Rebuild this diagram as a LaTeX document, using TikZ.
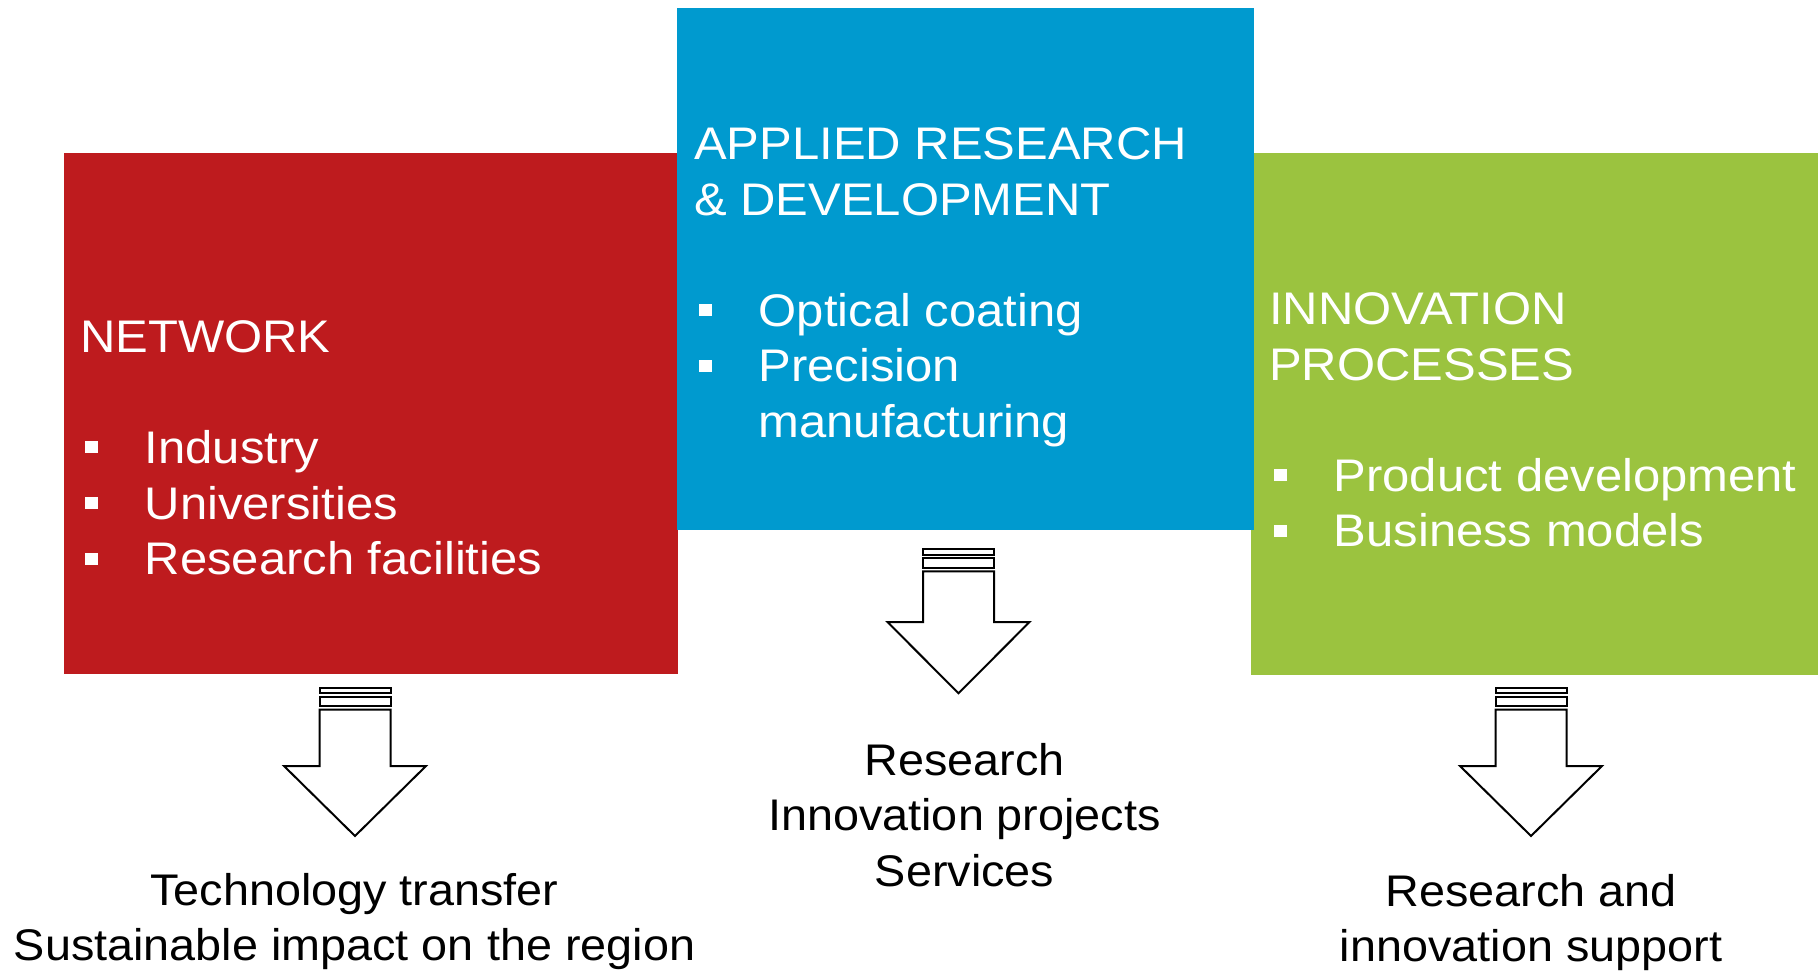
\documentclass[tikz,border=0pt]{standalone}
\usepackage{fontspec}
\setmainfont{Liberation Sans}[FakeStretch=1.056]
\newfontfamily\fieldfont{Liberation Sans}[FakeStretch=1.072]
\usetikzlibrary{positioning}

\definecolor{netred}{HTML}{BE1B1E}
\definecolor{ardblue}{HTML}{009ACF}
\definecolor{innogreen}{HTML}{9BC33F}

\newcommand{\firstline}{\rule{0pt}{40pt}}
\newcommand{\bul}{\makebox[64.5pt][l]{\hspace{4.5pt}\rule[10pt]{13pt}{12pt}}}
\newcommand{\bulgap}{\hspace*{64.5pt}}

\tikzset{
  field/.style={rectangle, inner sep=0, outer sep=0, anchor=north west},
  fieldtext/.style={text=white, align=left, inner sep=0, anchor=north west,
    font=\fieldfont\fontsize{45.7}{55.6}\selectfont},
  outcome/.style={text=black, align=center, inner sep=0, anchor=north,
    font=\fontsize{44.3}{55.6}\selectfont},
  blockarrow/.style={draw=black, fill=white, line width=2pt, line join=miter}
}

\begin{document}
\begin{tikzpicture}[x=1pt, y=-1pt]
\useasboundingbox (0,0) rectangle (1818,971);

% the three fields
\node[field, fill=netred, minimum width=614, minimum height=521] (network) at (64,153) {};
\node[field, fill=innogreen, minimum width=567, minimum height=522] (innovation) at (1251,153) {};
\node[field, fill=ardblue, minimum width=577, minimum height=522] (ard) at (677,8) {};

\node[fieldtext] (networktxt) at (80,312)
  {\firstline NETWORK\\ \\ \bul Industry\\ \bul Universities\\ \bul Research facilities};
\node[fieldtext] (ardtxt) at (694,119.3)
  {\firstline APPLIED RESEARCH\\ \& DEVELOPMENT\\ \\ \bul Optical coating\\ \bul Precision\\ \bulgap manufacturing};
\node[fieldtext] (innovationtxt) at (1269,284.3)
  {\firstline INNOVATION\\ PROCESSES\\ \\ \bul Product development\\ \bul Business models};

% striped arrows
\foreach \cx/\t/\hb/\tip in {355/687.7/766/836, 958.5/549.3/622/693.3, 1531/687.7/766/836}
  {
  \draw[blockarrow] (\cx-35.5,\t) rectangle (\cx+35.5,\t+5.5);
  \draw[blockarrow] (\cx-35.5,\t+9) rectangle (\cx+35.5,\t+18.2);
  \draw[blockarrow] (\cx-35.5,\t+22) -- (\cx-35.5,\hb) -- (\cx-71,\hb) -- (\cx,\tip)
     -- (\cx+71,\hb) -- (\cx+35.5,\hb) -- (\cx+35.5,\t+22) -- cycle;
  }

% outcomes
\node[outcome] (transfer) at (354.5,865) {\firstline Technology transfer\\ Sustainable impact on the region};
\node[outcome] (projects) at (964.5,735) {\firstline Research\\ Innovation projects\\ Services};
\node[outcome] (support) at (1531,866) {\firstline Research and\\ innovation support};
\end{tikzpicture}
\end{document}
